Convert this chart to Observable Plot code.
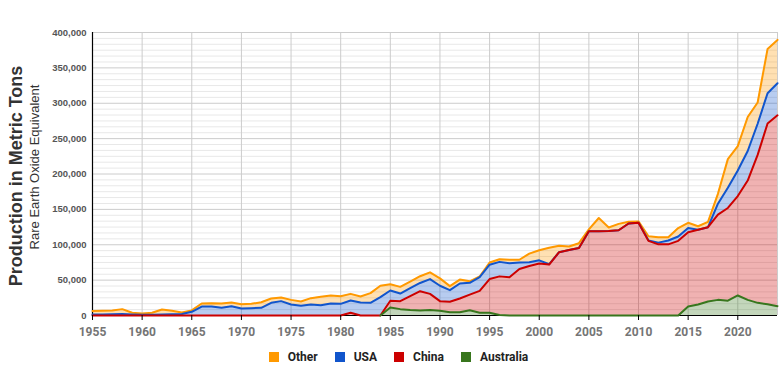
<!DOCTYPE html>
<html>
<head>
<meta charset="utf-8">
<script src="https://cdn.jsdelivr.net/npm/d3@7"></script>
<script src="https://cdn.jsdelivr.net/npm/@observablehq/plot@0.6"></script>
<style>
  html, body { margin: 0; padding: 0; background: #fff; }
  #chart { position: relative; width: 783px; height: 367px; overflow: hidden; background: #fff; }
  #chart svg { display: block; font-family: "Liberation Sans", Arial, sans-serif; }
  #chart g[aria-label="x-axis tick label"] text { font-family: Roboto, "Liberation Sans", Arial, sans-serif; }
  .legend { position: absolute; top: 349px; left: 0; width: 783px; height: 16px; box-sizing: border-box;
            padding-left: 14px; display: flex; align-items: center; justify-content: center; gap: 17px;
            font-family: Roboto, "Liberation Sans", Arial, sans-serif; font-size: 12px; font-weight: bold; color: #222; }
  .legend .item { display: flex; align-items: center; }
  .legend .sw { width: 10px; height: 10px; margin-right: 9px; }
</style>
</head>
<body>
<div id="chart"></div>
<script>
const years = [1955,1956,1957,1958,1959,1960,1961,1962,1963,1964,1965,1966,1967,1968,1969,1970,1971,1972,1973,1974,
  1975,1976,1977,1978,1979,1980,1981,1982,1983,1984,1985,1986,1987,1988,1989,1990,1991,1992,1993,1994,
  1995,1996,1997,1998,1999,2000,2001,2002,2003,2004,2005,2006,2007,2008,2009,2010,2011,2012,2013,2014,
  2015,2016,2017,2018,2019,2020,2021,2022,2023,2024];

const australia = [0,0,0,0,0,0,0,0,0,0,0,0,0,0,0,0,0,0,0,0,0,0,0,0,0,0,0,0,0,0,
  11300,9000,7800,7200,7800,6800,4700,4500,7500,4000,3800,700,
  0,0,0,0,0,0,0,0,0,0,0,0,0,0,0,0,0,0,
  12700,15500,19800,22100,21000,28300,22100,17900,16000,13200];

const china = [0,0,0,0,0,0,0,0,0,0,0,0,0,0,0,0,0,0,0,0,0,0,0,0,0,0,4000,0,0,0,
  9500,11300,19500,27200,22800,13500,14800,19500,22000,30800,47700,54600,54200,65700,70000,73500,72000,
  89500,92500,95500,119000,119000,119500,120500,130000,131000,105500,100600,100600,105500,
  105100,105700,105000,120400,131000,140500,168600,209100,255300,269800];

const usa = [1500,1500,1800,2000,1500,1000,1000,1500,1800,2000,5200,12700,12700,10800,13200,9900,10400,10800,17900,20300,
  15500,13700,15500,14600,17000,16500,17200,18400,17900,26000,
  14500,10700,11300,11600,20900,21800,16300,21200,16700,19400,20300,20500,19700,9200,5200,4500,500,
  0,0,0,0,0,0,0,0,0,700,2400,5400,6100,5800,0,0,15500,28600,36200,41800,44000,42900,45200];

const other = [5000,5200,5300,7000,2300,1800,2800,7000,4800,2200,2000,4300,4700,6200,5200,6100,6100,8000,6100,5100,
  6600,6100,9000,11800,11300,10800,9400,8400,13700,16000,
  8900,9500,9200,9500,9500,10400,5700,5600,2100,900,3100,3800,4800,3900,12300,14300,23300,
  9100,5000,6700,2700,18800,4900,9000,2500,2000,5800,7500,4500,12000,7400,5000,7500,14000,40400,34400,48000,30000,62600,61300];

const seriesNames = ["Other", "USA", "China", "Australia"];      // legend / drawing order
const stackOrder = ["Australia", "China", "USA", "Other"];        // bottom to top
const seriesColors = ["#ff9900", "#1155cc", "#cc0000", "#38761d"];
const xTicks = [1955,1960,1965,1970,1975,1980,1985,1990,1995,2000,2005,2010,2015,2020];
const yTicks = [0,50000,100000,150000,200000,250000,300000,350000,400000];
const minorGrid = d3.range(0, 48).filter(i => i % 6 !== 0).map(i => i * 50000 / 6);

const seriesValues = {Other: other, USA: usa, China: china, Australia: australia};
const table = [];
for (const name of seriesNames) {
  years.forEach((yr, i) => table.push({year: yr, series: name, value: seriesValues[name][i]}));
}

const chart = Plot.plot({
  width: 783,
  height: 341,
  marginLeft: 92,
  marginRight: 6,
  marginTop: 32,
  marginBottom: 26,
  style: {background: "#fff", fontFamily: "'Liberation Sans', Arial, sans-serif"},
  x: {domain: [years[0], years[years.length - 1]], axis: null},
  y: {domain: [0, 400000], axis: null},
  color: {domain: seriesNames, range: seriesColors},
  marks: [
    Plot.ruleY(minorGrid, {stroke: "#e8e8e8"}),
    Plot.gridY({ticks: yTicks, stroke: "#cccccc", strokeOpacity: 1}),
    Plot.gridX({ticks: xTicks, stroke: "#cccccc", strokeOpacity: 1}),
    Plot.ruleX([years[years.length - 1]], {stroke: "#cccccc"}),
    Plot.areaY(table, {x: "year", y: "value", z: "series", fill: "series", fillOpacity: 0.3, order: stackOrder}),
    Plot.ruleY([0], {stroke: "#000"}),
    Plot.ruleX([years[0]], {stroke: "#000", strokeWidth: 1.2}),
    Plot.lineY(table, Plot.stackY2({
      x: "year", y: "value", z: "series", stroke: "series", strokeWidth: 2, order: stackOrder,
      filter: d => !(d.series === "Australia" && d.year < 1984)
    })),
    Plot.axisY({ticks: yTicks, tickFormat: d3.format(","), tickSize: 0, tickPadding: 6, fontSize: 9.5, fontWeight: "bold", fill: "#555", label: null}),
    Plot.axisX({ticks: xTicks, tickFormat: d3.format("d"), tickSize: 5, tickPadding: 7, stroke: "#000", fontSize: 12, fontWeight: "bold", fill: "#757575", label: null}),
    Plot.text(["Production in Metric Tons"], {frameAnchor: "left", textAnchor: "middle", dx: -76, dy: 2, rotate: -90, fontSize: 18, fontWeight: "bold", fill: "#333"}),
    Plot.text(["Rare Earth Oxide Equivalent"], {frameAnchor: "left", textAnchor: "middle", dx: -58, dy: -7, rotate: -90, fontSize: 13, fill: "#333"})
  ]
});

const root = document.getElementById("chart");
root.appendChild(chart);

const legend = document.createElement("div");
legend.className = "legend";
seriesNames.forEach((name, i) => {
  const item = document.createElement("div");
  item.className = "item";
  const sw = document.createElement("span");
  sw.className = "sw";
  sw.style.background = seriesColors[i];
  const label = document.createElement("span");
  label.textContent = name;
  item.appendChild(sw);
  item.appendChild(label);
  legend.appendChild(item);
});
root.appendChild(legend);
</script>
</body>
</html>
